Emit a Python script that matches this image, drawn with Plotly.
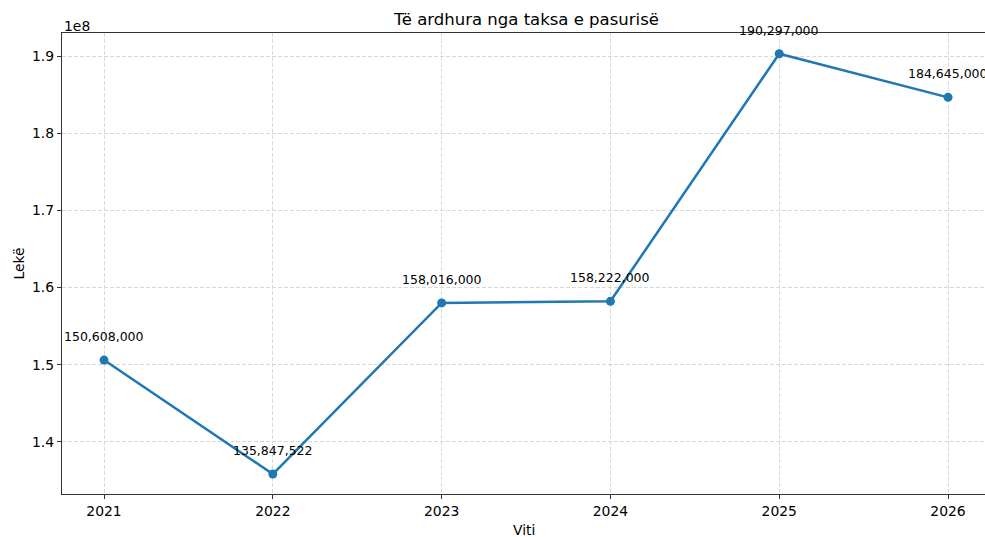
import plotly.graph_objects as go

years = [2021, 2022, 2023, 2024, 2025, 2026]
values = [150608000, 135847522, 158016000, 158222000, 190297000, 184645000]
value_labels = ["150,608,000", "135,847,522", "158,016,000", "158,222,000", "190,297,000", "184,645,000"]
y_tick_vals = [1.4e8, 1.5e8, 1.6e8, 1.7e8, 1.8e8, 1.9e8]
y_tick_text = ["1.4", "1.5", "1.6", "1.7", "1.8", "1.9"]
x_tick_text = ["2021", "2022", "2023", "2024", "2025", "2026"]

FONT = "DejaVu Sans"
fig = go.Figure()
fig.add_trace(go.Scatter(
    x=years, y=values, mode="lines+markers",
    line=dict(color="#1f77b4", width=2.5),
    marker=dict(color="#1f77b4", size=9),
    hoverinfo="skip", showlegend=False,
))

for x, y, t in zip(years, values, value_labels):
    fig.add_annotation(x=x, y=y, text=t, showarrow=False, xanchor="center",
                       yanchor="bottom", yshift=14,
                       font=dict(family=FONT, size=12.5, color="#000"))

fig.add_annotation(xref="paper", yref="paper", x=0, y=1, xanchor="left", yanchor="bottom",
                   text="1e8", showarrow=False, yshift=-3,
                   font=dict(family=FONT, size=13.9, color="#000"))

# axis titles
fig.add_annotation(xref="paper", yref="paper", x=0.5, y=0, xanchor="center", yanchor="middle",
                   text="Viti", showarrow=False, yshift=-36, borderpad=0,
                   font=dict(family=FONT, size=13.9, color="#000"))
fig.add_annotation(xref="paper", yref="paper", x=0, y=0.5, xanchor="center", yanchor="middle",
                   text="Lekë", showarrow=False, xshift=-44, textangle=-90,
                   font=dict(family=FONT, size=13.9, color="#000"))

grid = dict(showgrid=True, gridcolor="#d8d8d8", griddash="4px,2px", gridwidth=1)

fig.update_layout(
    width=985, height=537,
    margin=dict(l=62, r=0, t=33, b=43),
    paper_bgcolor="white", plot_bgcolor="white",
    font=dict(family=FONT, size=13.9, color="#000"),
    title=dict(text="Të ardhura nga taksa e pasurisë", x=0.5345, xanchor="center",
               y=0.965, yanchor="middle", font=dict(family=FONT, size=16.5, color="#000")),
    xaxis=dict(range=[2020.751, 2026.219], tickvals=years, ticktext=x_tick_text,
               showline=True, linecolor="#333", linewidth=1.2, mirror=True,
               ticks="outside", ticklen=4, tickcolor="#333",
               zeroline=False, automargin=False, **grid),
    yaxis=dict(range=[1.3326e8, 1.9298e8], tickvals=y_tick_vals, ticktext=y_tick_text,
               showline=True, linecolor="#333", linewidth=1.2,
               ticks="outside", ticklen=4, tickcolor="#333",
               zeroline=False, automargin=False, **grid),
)

fig.write_html("out.html", config={"displayModeBar": False},
               post_script="document.body.style.margin='0';document.body.style.overflow='hidden';")
